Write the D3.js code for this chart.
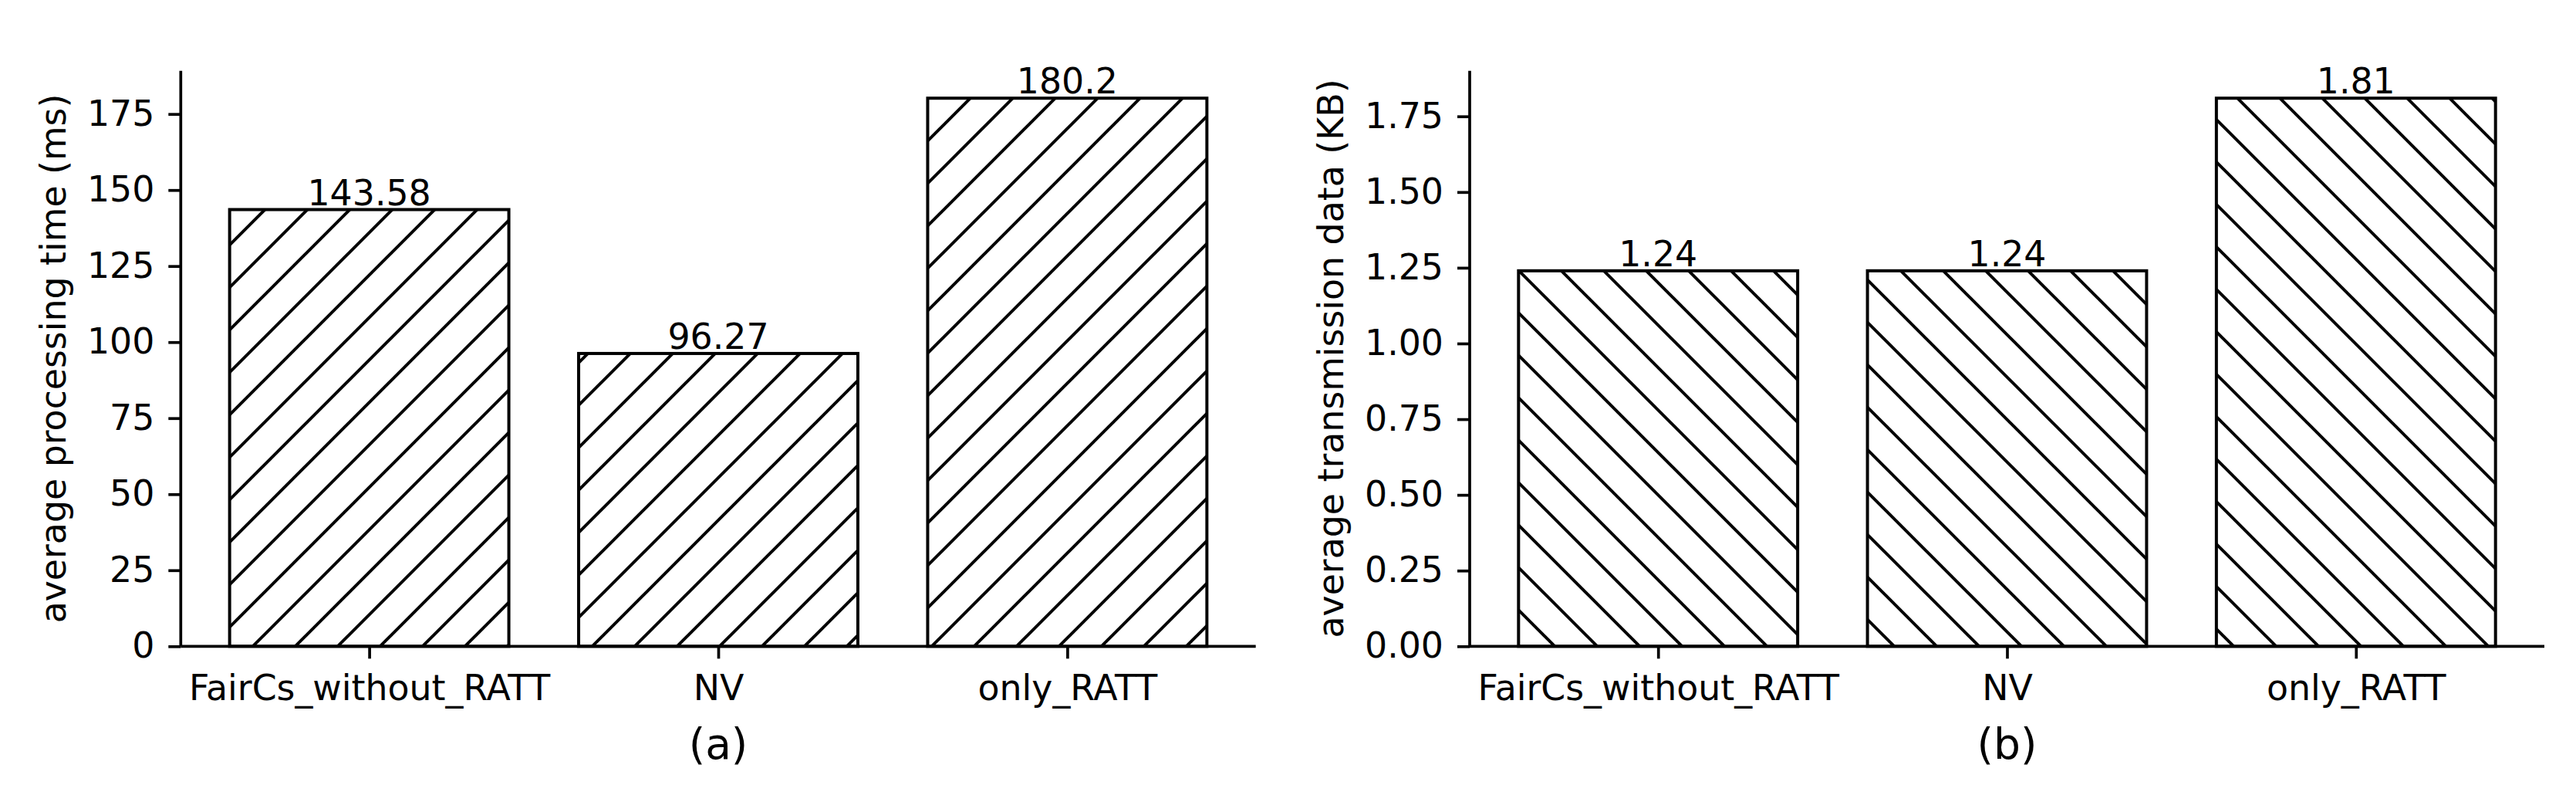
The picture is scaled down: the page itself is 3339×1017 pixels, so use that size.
<!DOCTYPE html>
<html>
<head>
<meta charset="utf-8">
<script src="https://cdn.jsdelivr.net/npm/d3@7"></script>
<style>
  html, body { margin: 0; padding: 0; background: #fff; }
  svg { display: block; }
  text { font-family: "DejaVu Sans", sans-serif; fill: #000; }
</style>
</head>
<body>
<script>
// ---- data ----
const categories = ["FairCs_without_RATT", "NV", "only_RATT"];
const timeValues = [143.58, 96.27, 180.2];
const dataValues = [1.24, 1.24, 1.81];
const timeLabels = ["143.58", "96.27", "180.2"];
const dataLabels = ["1.24", "1.24", "1.81"];
const timeTicks = [0, 25, 50, 75, 100, 125, 150, 175];
const dataTicks = [0, 0.25, 0.5, 0.75, 1.0, 1.25, 1.5, 1.75];
const panelTitles = ["(a)", "(b)"];
const yTitles = ["average processing time (ms)", "average transmission data (KB)"];

// ---- layout ----
const W = 3339, H = 1017;
const FS = 45.8, FS_TITLE = 55;
const LW = 3.7;
const panels = [
  { x0: 234.3, x1: 1627.7, values: timeValues, labels: timeLabels, ticks: timeTicks, fmt: d3.format("d"),
    hatch: "fwd", title: panelTitles[0], ytitle: yTitles[0], ytitleX: 85 },
  { x0: 1905, x1: 3298, values: dataValues, labels: dataLabels, ticks: dataTicks, fmt: d3.format(".2f"),
    hatch: "back", title: panelTitles[1], ytitle: yTitles[1], ytitleX: 1740.7 }
];
const yTop = 91.7, yBot = 837.3;

const svg = d3.select("body").append("svg").attr("width", W).attr("height", H);
svg.append("rect").attr("width", W).attr("height", H).attr("fill", "#fff");

const defs = svg.append("defs");
const P = 55;
defs.append("pattern").attr("id", "fwd").attr("patternUnits", "userSpaceOnUse")
  .attr("width", P).attr("height", P).attr("x", 10).attr("y", 0)
  .call(p => {
    p.append("rect").attr("width", P).attr("height", P).attr("fill", "#fff");
    p.append("path").attr("d", `M-6,6 L6,-6 M0,${P} L${P},0 M${P-6},${P+6} L${P+6},${P-6}`)
      .attr("stroke", "#000").attr("stroke-width", 4);
  });
defs.append("pattern").attr("id", "back").attr("patternUnits", "userSpaceOnUse")
  .attr("width", P).attr("height", P).attr("x", 23).attr("y", 0)
  .call(p => {
    p.append("rect").attr("width", P).attr("height", P).attr("fill", "#fff");
    p.append("path").attr("d", `M-6,${P-6} L6,${P+6} M0,0 L${P},${P} M${P-6},-6 L${P+6},6`)
      .attr("stroke", "#000").attr("stroke-width", 4);
  });

panels.forEach(pn => {
  const g = svg.append("g");
  const x = d3.scaleLinear().domain([-0.54, 2.54]).range([pn.x0, pn.x1]);
  const maxV = d3.max(pn.values) * 1.05;
  const y = d3.scaleLinear().domain([0, maxV]).range([yBot, yTop]);

  // bars
  g.selectAll("rect.bar").data(pn.values).join("rect").attr("class", "bar")
    .attr("x", (d, i) => x(i - 0.4))
    .attr("width", (d, i) => x(i + 0.4) - x(i - 0.4))
    .attr("y", d => y(d))
    .attr("height", d => y(0) - y(d))
    .attr("fill", `url(#${pn.hatch})`)
    .attr("stroke", "#000").attr("stroke-width", 4);

  // value labels
  g.selectAll("text.val").data(pn.values).join("text").attr("class", "val")
    .attr("x", (d, i) => x(i))
    .attr("y", d => y(d) - 6)
    .attr("text-anchor", "middle")
    .attr("font-size", FS)
    .text((d, i) => pn.labels[i]);

  // y axis
  const ya = g.append("g").attr("transform", `translate(${pn.x0},0)`)
    .call(d3.axisLeft(y).tickValues(pn.ticks).tickFormat(pn.fmt).tickSize(16).tickPadding(18).tickSizeOuter(0));
  ya.select(".domain").attr("stroke", "#000").attr("stroke-width", LW)
    .attr("d", `M0,${yBot}V${yTop}`);
  ya.selectAll(".tick line").attr("stroke", "#000").attr("stroke-width", LW);
  ya.selectAll(".tick text").attr("font-size", FS).attr("font-family", "DejaVu Sans").attr("fill", "#000");

  // x axis
  const xa = g.append("g").attr("transform", `translate(0,${yBot})`)
    .call(d3.axisBottom(x).tickValues([0, 1, 2]).tickFormat(i => categories[i]).tickSize(16).tickSizeOuter(0));
  xa.select(".domain").attr("stroke", "#000").attr("stroke-width", LW)
    .attr("d", `M${pn.x0},0H${pn.x1}`);
  xa.selectAll(".tick line").attr("stroke", "#000").attr("stroke-width", LW);
  xa.selectAll(".tick text").attr("font-size", FS).attr("font-family", "DejaVu Sans").attr("fill", "#000")
    .attr("y", 907 - yBot).attr("dy", null);

  // panel title (x label)
  g.append("text").attr("x", (pn.x0 + pn.x1) / 2).attr("y", 983)
    .attr("text-anchor", "middle").attr("font-size", FS_TITLE).text(pn.title);

  // y label
  g.append("text")
    .attr("transform", `translate(${pn.ytitleX},${(yTop + yBot) / 2}) rotate(-90)`)
    .attr("text-anchor", "middle").attr("font-size", FS).text(pn.ytitle);
});
</script>
</body>
</html>
